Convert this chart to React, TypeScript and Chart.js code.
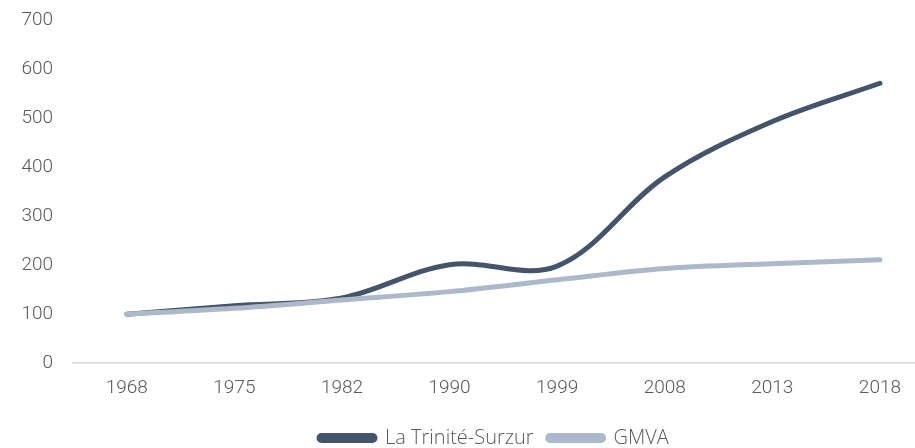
import React, { useEffect, useRef } from "react";
import { Chart, registerables } from "chart.js";

Chart.register(...registerables);

const categories = ["1968", "1975", "1982", "1990", "1999", "2008", "2013", "2018"];
const trinite = [100, 117, 133, 201, 198, 380, 493, 571];
const gmva = [100, 112, 129, 146, 170, 193, 203, 211];
const seriesNames = ["La Trinité-Surzur", "GMVA"];
const yTicks = [0, 100, 200, 300, 400, 500, 600, 700];

const DARK = "#44546a";
const LIGHT = "#adb9ca";
const TEXT = "#595959";
const FONT = "Roboto";

export default function App() {
  const ref = useRef<HTMLCanvasElement | null>(null);

  useEffect(() => {
    document.body.style.margin = "0";
    const canvas = ref.current;
    if (!canvas) return;
    const toPts = (arr: number[]) => arr.map((v, i) => ({ x: i, y: v }));
    const chart = new Chart(canvas, {
      type: "line",
      data: {
        datasets: [
          {
            label: seriesNames[0],
            data: toPts(trinite),
            borderColor: DARK,
            backgroundColor: DARK,
            borderWidth: 5,
            borderCapStyle: "round",
            pointRadius: 0,
            tension: 0.35,
            order: 1,
          },
          {
            label: seriesNames[1],
            data: toPts(gmva),
            borderColor: LIGHT,
            backgroundColor: LIGHT,
            borderWidth: 5,
            borderCapStyle: "round",
            pointRadius: 0,
            tension: 0.35,
            order: 0,
          },
        ],
      },
      options: {
        animation: false,
        responsive: false,
        maintainAspectRatio: false,
        layout: { padding: { top: 20, right: 0, left: 0, bottom: -10 } },
        scales: {
          x: {
            type: "linear",
            min: -0.5,
            max: 7.325,
            grid: { display: false, drawTicks: false },
            border: { display: true, color: "#d9d9d9", width: 1.5 },
            afterBuildTicks: (s: any) => {
              s.ticks = categories.map((_, i) => ({ value: i }));
            },
            ticks: {
              padding: 14,
              color: TEXT,
              font: { family: FONT, size: 19, weight: "300" },
              callback: (v: any) => categories[v as number] ?? "",
              maxRotation: 0,
              autoSkip: false,
            },
          },
          y: {
            min: 0,
            max: 700,
            afterBuildTicks: (s: any) => {
              s.ticks = yTicks.map((v) => ({ value: v }));
            },
            afterFit: (s: any) => {
              s.width = 73;
              s.paddingTop = 0;
              s.paddingBottom = 0;
            },
            grid: { display: false, drawTicks: false },
            border: { display: false },
            ticks: {
              padding: 20,
              color: TEXT,
              font: { family: FONT, size: 19, weight: "300" },
            },
          },
        },
        plugins: {
          tooltip: { enabled: false },
          legend: {
            position: "bottom",
            fullSize: false,
            labels: {
              color: TEXT,
              font: { family: "Open Sans", size: 20, weight: "300" },
              boxWidth: 56,
              boxHeight: 5,
              useBorderRadius: true,
              borderRadius: 2.5,
              padding: 14,
              sort: (a: any, b: any) => a.datasetIndex - b.datasetIndex,
            },
          },
        },
      },
    });
    return () => chart.destroy();
  }, []);

  return (
    <div style={{ width: 915, height: 448 }}>
      <canvas ref={ref} width={915} height={448} style={{ display: "block" }} />
    </div>
  );
}
